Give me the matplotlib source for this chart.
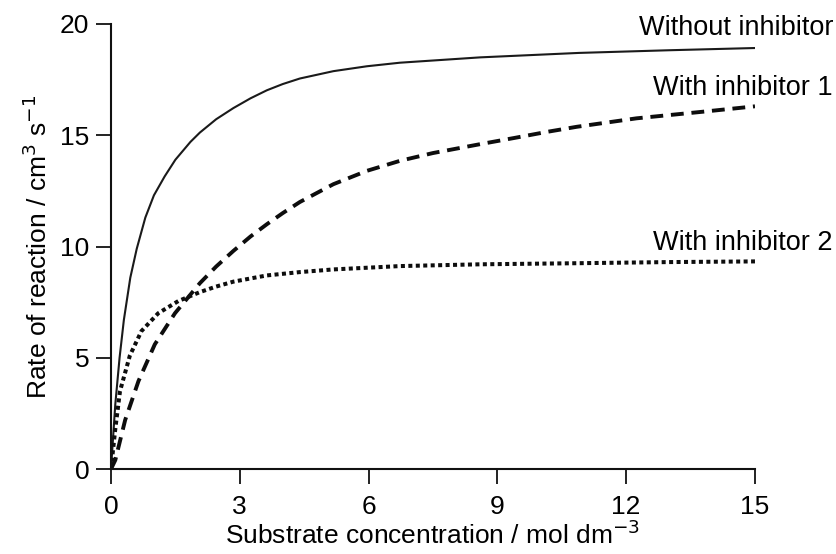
import matplotlib.pyplot as plt

#----------------------------DATA-----------------------------------#

# substrate concentration / mol dm-3 and rate / cm3 s-1
x_without = [0, 0.1, 0.2, 0.3, 0.45, 0.6, 0.8, 1.0, 1.25, 1.5, 1.85, 2.07, 2.45, 2.85,
             3.25, 3.63, 4.0, 4.4, 5.18, 5.96, 6.73, 8.6, 10.9, 13, 15]
y_without = [0, 2.9, 5.0, 6.7, 8.6, 9.9, 11.3, 12.3, 13.15, 13.9, 14.7, 15.12, 15.72, 16.22,
             16.66, 17.02, 17.3, 17.55, 17.88, 18.1, 18.26, 18.5, 18.7, 18.82, 18.92]

x_inhib1 = [0, 0.1, 0.33, 0.64, 1.02, 1.49, 2.07, 2.45, 2.85, 3.25, 3.63, 4.0, 4.4,
            5.18, 5.96, 6.73, 7.5, 8.6, 9.4, 10.15, 10.85, 12.24, 13.8, 15]
y_inhib1 = [0, 0.4, 2.2, 3.95, 5.6, 7.0, 8.35, 9.1, 9.8, 10.45, 11.0, 11.5, 12.0,
            12.8, 13.4, 13.85, 14.2, 14.6, 14.88, 15.15, 15.38, 15.76, 16.06, 16.3]

x_inhib2 = [0, 0.05, 0.1, 0.21, 0.44, 0.71, 1.1, 1.57, 2.07, 2.45, 2.85, 3.63, 4.4,
            5.18, 6.73, 8.6, 10.9, 13, 15]
y_inhib2 = [0, 0.9, 1.8, 3.5, 5.1, 6.2, 7.0, 7.55, 7.95, 8.2, 8.42, 8.7, 8.85,
            8.97, 9.12, 9.2, 9.25, 9.3, 9.33]

labels = ["Without inhibitor", "With inhibitor 1", "With inhibitor 2"]
x_ticks = [0, 3, 6, 9, 12, 15]
y_ticks = [0, 5, 10, 15, 20]

#----------------------------PLOT-----------------------------------#

plt.rcParams['font.family'] = ['Liberation Sans', 'DejaVu Sans']

fig = plt.figure(figsize=(8.37, 5.54), dpi=100)
ax = fig.add_axes([0.1326, 0.1534, 0.902 - 0.1326, 0.9567 - 0.1534])

ax.plot(x_without, y_without, color='#1a1a1a', lw=1.5, solid_joinstyle='round')
ax.plot(x_inhib1, y_inhib1, color='#0d0d0d', lw=2.8, ls=(0, (3.3, 2.0)), dash_capstyle='butt')
ax.plot(x_inhib2, y_inhib2, color='#0d0d0d', lw=2.9, ls=(0, (1.0, 0.85)), dash_capstyle='butt')

# labels at the right end of each curve
ax.text(16.82, 19.82, labels[0], ha='right', va='center', fontsize=19.5, clip_on=False)
ax.text(16.80, 17.12, labels[1], ha='right', va='center', fontsize=19.5, clip_on=False)
ax.text(16.80, 10.16, labels[2], ha='right', va='center', fontsize=19.5, clip_on=False)

ax.set_xlim(0, 15)
ax.set_ylim(0, 20)
ax.set_xticks(x_ticks)
ax.set_yticks(y_ticks)
ax.tick_params(axis='both', length=10.5, width=1.3, labelsize=19, color='#111111')
ax.tick_params(axis='x', pad=8)
ax.tick_params(axis='y', pad=5)

for side in ['top', 'right']:
    ax.spines[side].set_visible(False)
for side in ['left', 'bottom']:
    ax.spines[side].set_linewidth(1.5)
    ax.spines[side].set_color('#111111')

ax.set_xlabel('Substrate concentration / mol dm$^{-3}$', fontsize=19, labelpad=1)
ax.set_ylabel('Rate of reaction / cm$^{3}$ s$^{-1}$', fontsize=19, labelpad=6)

plt.savefig('out.png', dpi=100)
